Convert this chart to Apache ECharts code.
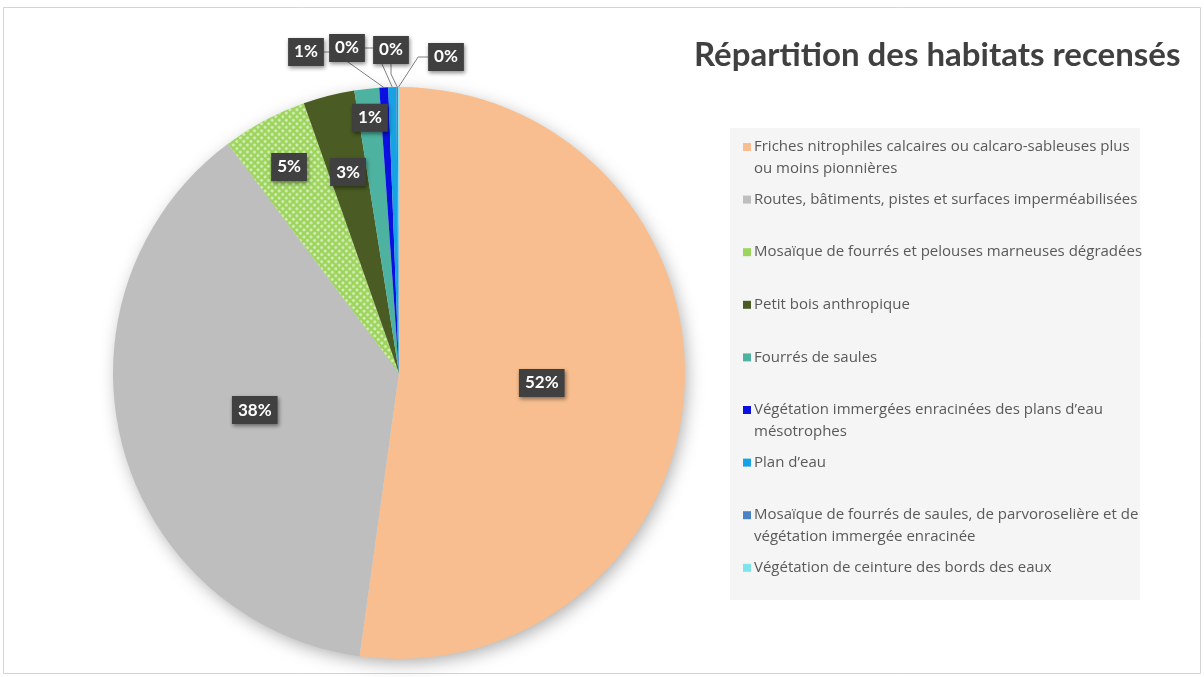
<!DOCTYPE html>
<html>
<head>
<meta charset="utf-8">
<script src="https://cdn.jsdelivr.net/npm/echarts@6/dist/echarts.min.js"></script>
<style>
  html, body { margin: 0; padding: 0; background: #fff; }
  #chart { width: 1204px; height: 677px; }
</style>
</head>
<body>
<div id="chart"></div>
<script>
// habitat categories, clockwise from 12 o'clock
const categories = [
  'Friches nitrophiles calcaires ou calcaro-sableuses plus ou moins pionnières',
  'Routes, bâtiments, pistes et surfaces imperméabilisées',
  'Mosaïque de fourrés et pelouses marneuses dégradées',
  'Petit bois anthropique',
  'Fourrés de saules',
  'Végétation immergées enracinées des plans d’eau mésotrophes',
  'Plan d’eau',
  'Mosaïque de fourrés de saules, de parvoroselière et de végétation immergée enracinée',
  'Végétation de ceinture des bords des eaux'
];
// share of surface (%)
const values = [52.2, 37.6, 4.8, 2.9, 1.4, 0.5, 0.45, 0.1, 0.05];
// legend text as wrapped in the original
const legendLabels = [
  ['Friches nitrophiles calcaires ou calcaro-sableuses plus', 'ou moins pionnières'],
  ['Routes, bâtiments, pistes et surfaces imperméabilisées'],
  ['Mosaïque de fourrés et pelouses marneuses dégradées'],
  ['Petit bois anthropique'],
  ['Fourrés de saules'],
  ['Végétation immergées enracinées des plans d’eau', 'mésotrophes'],
  ['Plan d’eau'],
  ['Mosaïque de fourrés de saules, de parvoroselière et de', 'végétation immergée enracinée'],
  ['Végétation de ceinture des bords des eaux']
];

const colors = ['#F8BE8F', '#BEBEBE', '#9CD45C', '#4A5C23', '#4DB3A0',
  '#0A10E0', '#17A3E3', '#4A84C4', '#7FE3EE'];

const PIE_CX = 399;
const PIE_CY = 373;
const PIE_R = 286;
// radial position of the inside labels, as a fraction of the radius
const insideLabelRadius = [0.49, 0.51, 0.8, 0.71, 0.88];
// outside labels sit in a row above the pie
const outsideLabelPos = {5: [306, 52], 6: [347, 48], 7: [391, 50], 8: [446, 57]};

const FONT = 'Lato';
const LEGEND_FONT = 'Open Sans';

const labelBox = {
  color: '#fff',
  fontFamily: FONT,
  fontWeight: 'bold',
  fontSize: 17,
  backgroundColor: '#404040',
  padding: [6, 6, 5, 6],
  shadowBlur: 4,
  shadowColor: 'rgba(0,0,0,0.45)',
  shadowOffsetX: 1,
  shadowOffsetY: 2
};

const pieData = categories.map((name, i) => {
  const item = {
    name: name,
    value: values[i],
    itemStyle: { color: colors[i] },
    label: { position: i < 5 ? 'inside' : 'outside' },
    labelLine: { show: i >= 5 }
  };
  if (i === 2) {
    item.itemStyle.decal = {
      symbol: 'circle',
      symbolSize: 0.6,
      color: 'rgba(255,255,255,0.6)',
      dashArrayX: [5, 0],
      dashArrayY: [5, 0],
      rotation: Math.PI / 4
    };
  }
  return item;
});

// one legend per entry so each gets the fixed slot height of the original
const legends = categories.map((name, i) => {
  const lines = legendLabels[i];
  return {
    left: 738,
    top: 136 + i * 52.6,
    padding: 0,
    orient: 'vertical',
    selectedMode: false,
    itemWidth: 0,
    itemHeight: 0,
    data: [name],
    formatter: () => '{sq|}{gap|}' + lines[0] + (lines[1] ? '\n{sp|}' + lines[1] : ''),
    textStyle: {
      fontFamily: LEGEND_FONT,
      fontSize: 15,
      color: '#595959',
      lineHeight: 22,
      rich: {
        sq: { width: 8, height: 8, backgroundColor: colors[i] },
        gap: { width: 3 },
        sp: { width: 11 }
      }
    }
  };
});

const chart = echarts.init(document.getElementById('chart'));

chart.setOption({
  animation: false,
  backgroundColor: '#fff',
  title: {
    text: 'Répartition des habitats recensés',
    left: 689,
    top: 34,
    textStyle: {
      fontFamily: FONT,
      fontSize: 33,
      fontWeight: 'bold',
      color: '#404040'
    }
  },
  legend: legends,
  graphic: [
    {
      type: 'rect',
      silent: true,
      z: -10,
      shape: { x: 3.5, y: 7.5, width: 1197, height: 666 },
      style: { fill: '#fff', stroke: '#d4d4d4', lineWidth: 1 }
    },
    {
      type: 'rect',
      silent: true,
      z: -9,
      shape: { x: 730, y: 128, width: 410, height: 472 },
      style: { fill: '#F5F5F5' }
    },
    {
      type: 'circle',
      silent: true,
      z: -8,
      shape: { cx: PIE_CX, cy: PIE_CY, r: PIE_R - 2 },
      style: {
        fill: '#ddd',
        shadowBlur: 18,
        shadowOffsetX: 3,
        shadowOffsetY: 5,
        shadowColor: 'rgba(0,0,0,0.35)'
      }
    }
  ],
  series: [
    {
      type: 'pie',
      center: [PIE_CX, PIE_CY],
      radius: PIE_R,
      startAngle: 90,
      clockwise: true,
      avoidLabelOverlap: false,
      data: pieData,
      label: {
        show: true,
        formatter: (p) => Math.round(p.percent) + '%',
        ...labelBox
      },
      labelLine: {
        length: 10,
        length2: 10,
        lineStyle: { color: '#7f7f7f', width: 1 }
      },
      labelLayout: (params) => {
        const i = params.dataIndex;
        const r = params.labelRect;
        if (outsideLabelPos[i]) {
          return {
            x: outsideLabelPos[i][0],
            y: outsideLabelPos[i][1],
            align: 'center',
            verticalAlign: 'middle'
          };
        }
        const f = insideLabelRadius[i];
        const lx = r.x + r.width / 2;
        const ly = r.y + r.height / 2;
        const k = f / 0.5 - 1;
        return { dx: (lx - PIE_CX) * k, dy: (ly - PIE_CY) * k };
      }
    }
  ]
});
</script>
</body>
</html>
